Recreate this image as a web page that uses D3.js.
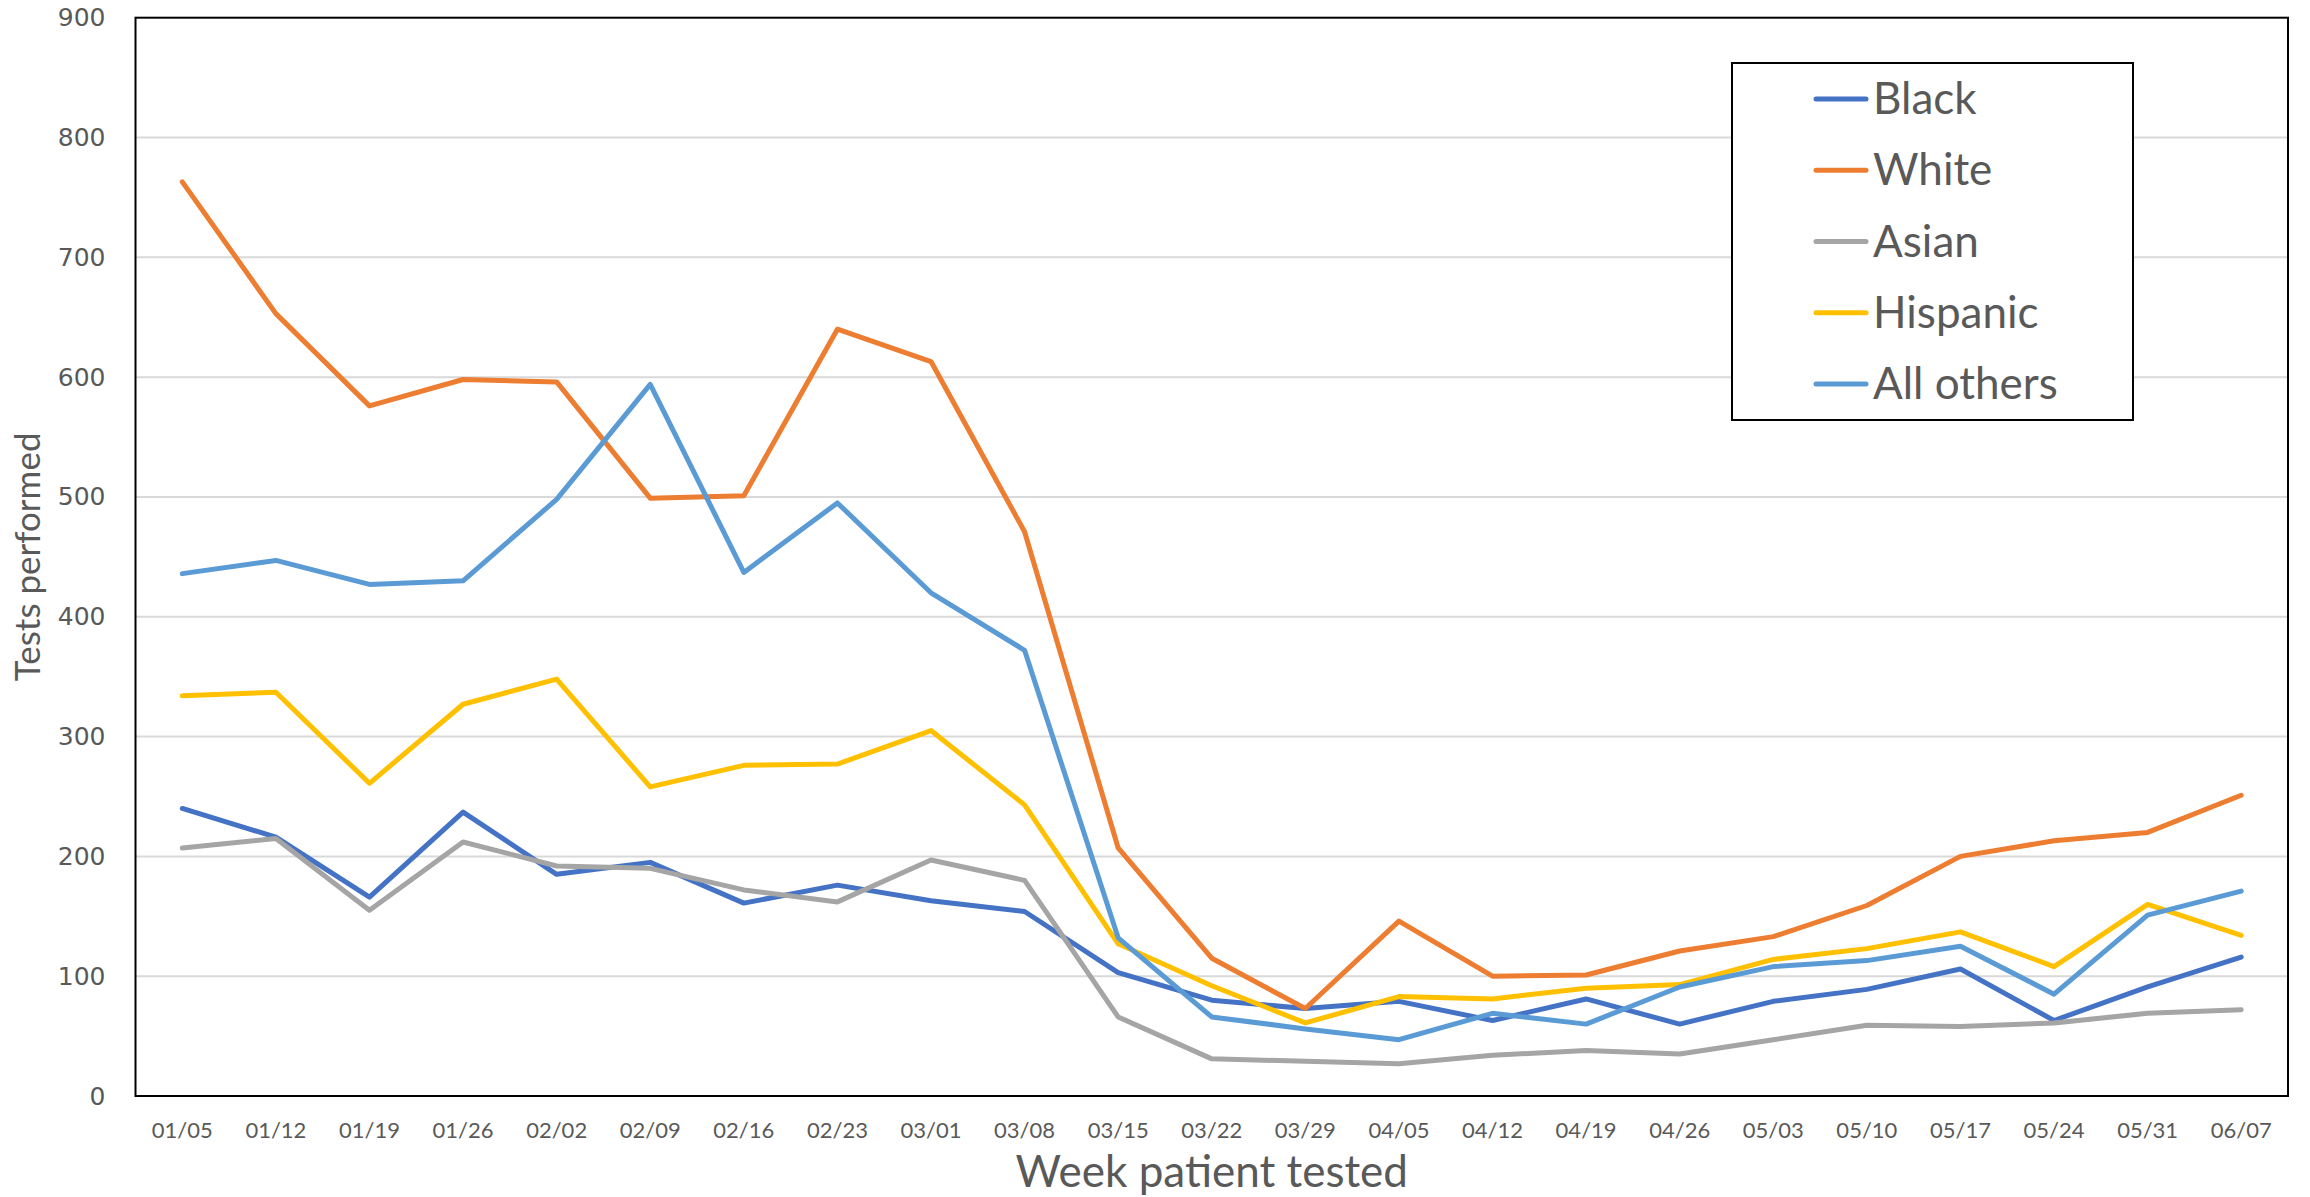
<!DOCTYPE html>
<html>
<head>
<meta charset="utf-8">
<script src="https://cdn.jsdelivr.net/npm/d3@7"></script>
<style>
  html, body { margin: 0; padding: 0; background: #ffffff; }
  svg { display: block; }
</style>
</head>
<body>
<script>
// Weekly COVID-19 tests performed, by patient race/ethnicity
const weeks = ["01/05","01/12","01/19","01/26","02/02","02/09","02/16","02/23","03/01","03/08",
  "03/15","03/22","03/29","04/05","04/12","04/19","04/26","05/03","05/10","05/17","05/24","05/31","06/07"];

const black    = [240,216,166,237,185,195,161,176,163,154,103,80,73,79,63,81,60,79,89,106,63,91,116];
const white    = [763,653,576,598,596,499,501,640,613,471,207,115,73,146,100,101,121,133,159,200,213,220,251];
const asian    = [207,215,155,212,192,190,172,162,197,180,66,31,29,27,34,38,35,47,59,58,61,69,72];
const hispanic = [334,337,261,327,348,258,276,277,305,243,127,92,61,83,81,90,93,114,123,137,108,160,134];
const others   = [436,447,427,430,498,594,437,495,420,372,132,66,56,47,69,60,91,108,113,125,85,151,171];

const seriesNames  = ["Black","White","Asian","Hispanic","All others"];
const seriesColors = ["#4472C4","#ED7D31","#A5A5A5","#FFC000","#5B9BD5"];
const yTicks = [0,100,200,300,400,500,600,700,800,900];

const series = [black, white, asian, hispanic, others].map((values, i) => ({
  name: seriesNames[i], color: seriesColors[i], values
}));

const W = 2310, H = 1197;
const plot = { left: 135.5, top: 17.7, right: 2288, bottom: 1096 };
const textColor = "#595959";
const bodyFont = "Lato, 'Open Sans', sans-serif";

const svg = d3.select("body").append("svg").attr("width", W).attr("height", H);

const x = d3.scaleBand().domain(weeks).range([plot.left, plot.right]).padding(0);
const y = d3.scaleLinear().domain([0, 900]).range([plot.bottom, plot.top]);
const xc = d => x(d) + x.bandwidth() / 2;

// horizontal gridlines
svg.append("g")
  .selectAll("line")
  .data(yTicks.filter(t => t > 0 && t < 900))
  .join("line")
  .attr("x1", plot.left).attr("x2", plot.right)
  .attr("y1", d => y(d)).attr("y2", d => y(d))
  .attr("stroke", "#D9D9D9").attr("stroke-width", 2);

// y axis tick labels
const yAxis = svg.append("g")
  .attr("transform", `translate(${plot.left},0)`)
  .call(d3.axisLeft(y).tickValues(yTicks).tickSize(0).tickPadding(30));
yAxis.select(".domain").remove();
yAxis.selectAll("text")
  .attr("fill", textColor)
  .style("font-family", "'DejaVu Sans', sans-serif")
  .style("font-size", "25px");

// x axis tick labels
const xAxis = svg.append("g")
  .attr("transform", `translate(0,${plot.bottom})`)
  .call(d3.axisBottom(x).tickSize(0).tickPadding(26));
xAxis.select(".domain").remove();
xAxis.selectAll("text")
  .attr("fill", textColor)
  .style("font-family", bodyFont)
  .style("font-size", "22px");

// series lines
const line = d3.line()
  .x((d, i) => xc(weeks[i]))
  .y(d => y(d));

svg.append("g")
  .selectAll("path")
  .data(series)
  .join("path")
  .attr("d", d => line(d.values))
  .attr("fill", "none")
  .attr("stroke", d => d.color)
  .attr("stroke-width", 5)
  .attr("stroke-linejoin", "round")
  .attr("stroke-linecap", "round");

// plot area frame
svg.append("rect")
  .attr("x", plot.left).attr("y", plot.top)
  .attr("width", plot.right - plot.left).attr("height", plot.bottom - plot.top)
  .attr("fill", "none").attr("stroke", "#000").attr("stroke-width", 2);

// axis titles
svg.append("text")
  .attr("x", (plot.left + plot.right) / 2).attr("y", 1187)
  .attr("text-anchor", "middle")
  .attr("fill", textColor)
  .style("font-family", bodyFont)
  .style("font-size", "44px")
  .text("Week patient tested");

svg.append("text")
  .attr("transform", `translate(40,${(plot.top + plot.bottom) / 2}) rotate(-90)`)
  .attr("text-anchor", "middle")
  .attr("fill", textColor)
  .style("font-family", bodyFont)
  .style("font-size", "35px")
  .text("Tests performed");

// legend
const legend = svg.append("g");
legend.append("rect")
  .attr("x", 1732).attr("y", 63).attr("width", 401).attr("height", 357)
  .attr("fill", "#fff").attr("stroke", "#000").attr("stroke-width", 2);

const rowY = d3.scalePoint().domain(seriesNames).range([99, 384]);
const item = legend.selectAll("g.item")
  .data(series)
  .join("g").attr("class", "item")
  .attr("transform", d => `translate(0,${rowY(d.name)})`);
item.append("line")
  .attr("x1", 1816).attr("x2", 1866)
  .attr("stroke", d => d.color).attr("stroke-width", 5)
  .attr("stroke-linecap", "round");
item.append("text")
  .attr("x", 1873).attr("y", 15)
  .attr("fill", textColor)
  .style("font-family", bodyFont)
  .style("font-size", "44px")
  .text(d => d.name);
</script>
</body>
</html>
